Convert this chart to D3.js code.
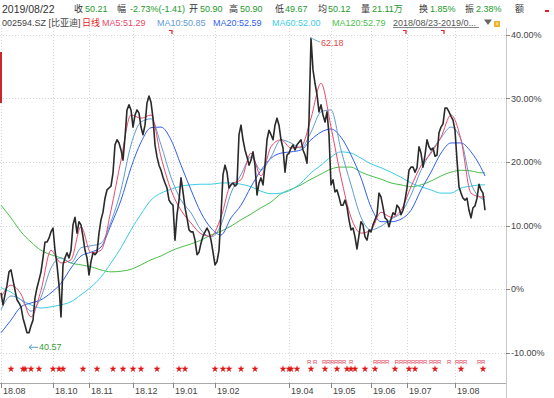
<!DOCTYPE html>
<html>
<head>
<meta charset="utf-8">
<script src="https://cdn.jsdelivr.net/npm/d3@7"></script>
<style>
body { margin: 0; background: #fff; }
svg { display: block; font-family: "Liberation Sans", "Noto Sans CJK SC", sans-serif; }
</style>
</head>
<body>
<div id="chart-area"></div>
<script>
// close, % change vs. base price, one value per trading day (2018/08/23 - 2019/08/22)
var closePct = [
  -0.6, -2.5, -0.9, 0.6, 2.7, 3.0, 1.4, -0.2, -1.7, -2.2,
  -2.8, -4.6, -5.7, -6.9, -6.9, -5.8, -4.9, -1.4, 0.2, 1.4,
  2.7, 4.9, 7.4, 7.4, 8.0, 9.0, 9.6, 6.1, 3.8, 0.6,
  -4.4, 3.8, 4.9, 5.7, 4.9, 6.1, 10.1, 11.3, 8.8, 10.6,
  10.1, 8.2, 6.1, 4.9, 2.2, 4.3, 5.7, 5.4, 5.8, 8.8,
  10.9, 12.1, 14.3, 15.6, 15.9, 16.2, 18.3, 22.7, 23.5, 23.0,
  21.9, 20.3, 23.9, 28.2, 29.0, 28.2, 25.5, 27.4, 28.2, 27.7,
  25.5, 24.3, 25.8, 29.3, 30.4, 29.4, 26.9, 22.7, 20.8, 19.5,
  18.7, 17.6, 16.7, 15.9, 14.0, 13.5, 13.2, 7.7, 11.7, 14.0,
  17.5, 15.3, 12.8, 11.2, 9.3, 9.0, 9.0, 7.7, 5.4, 5.8,
  7.2, 8.3, 9.0, 9.6, 9.0, 7.7, 5.8, 3.8, 4.3, 6.1,
  11.7, 18.0, 19.5, 18.4, 15.9, 16.4, 16.7, 16.2, 16.5, 24.3,
  25.8, 23.5, 21.9, 20.8, 19.5, 20.3, 21.6, 19.5, 14.8, 16.7,
  17.5, 16.4, 19.5, 23.5, 25.0, 24.3, 23.5, 25.8, 26.9, 25.8,
  23.5, 22.2, 18.4, 21.1, 21.4, 22.2, 22.7, 21.9, 22.7, 23.1,
  23.5, 21.9, 21.1, 19.8, 26.6, 39.5, 34.5, 32.4, 30.6, 27.9,
  29.0, 27.4, 26.3, 27.9, 24.3, 16.4, 17.2, 15.3, 15.6, 14.5,
  13.2, 13.2, 14.0, 12.9, 10.9, 9.3, 9.6, 8.2, 6.3, 8.5,
  10.6, 10.1, 8.2, 7.7, 9.3, 9.0, 10.1, 10.9, 11.7, 15.1,
  14.5, 12.9, 11.2, 10.9, 9.8, 11.0, 12.0, 11.7, 13.2, 12.8,
  11.7, 12.4, 14.0, 15.9, 18.7, 19.2, 19.2, 18.4, 19.1, 22.4,
  21.4, 19.2, 21.1, 23.5, 22.4, 21.9, 22.2, 20.9, 21.1, 24.6,
  25.5, 26.0, 28.5, 28.5, 27.9, 27.2, 26.6, 25.0, 20.3, 16.1,
  15.1, 14.3, 14.0, 14.3, 12.4, 11.2, 12.8, 13.1, 14.3, 16.5,
  15.6, 15.1, 12.4
];

// moving averages read every 5 trading days (and the last day)
var maDays = d3.range(0, 241, 5).concat([242]);
var ma5 = [
  -1.3, 0.6, -0.8, -4.4, -0.2, 6.1, 4.1, 4.6, 9.8, 5.7,
  6.1, 12.4, 20.3, 27.4, 26.9, 27.4, 20.8, 15.6, 12.4, 10.4,
  8.7, 8.3, 11.3, 16.5, 17.2, 21.4, 17.8, 22.4, 23.5, 22.2,
  22.4, 26.9, 32.4, 25.5, 17.6, 11.3, 8.8, 9.3, 12.1, 11.3,
  12.4, 16.1, 19.4, 21.4, 23.9, 27.4, 23.5, 15.1, 14.5, 14.5
];
var ma10 = [
  -3.3, -1.1, -1.7, -3.5, -1.3, 3.3, 4.9, 4.1, 6.5, 6.8,
  7.2, 10.6, 15.6, 22.7, 26.3, 26.8, 22.7, 17.6, 14.0, 12.0,
  9.3, 8.2, 10.1, 15.1, 18.0, 20.8, 18.7, 20.8, 23.5, 23.0,
  22.2, 24.7, 27.9, 28.2, 21.9, 16.4, 11.3, 9.3, 9.9, 11.0,
  12.0, 14.8, 18.7, 21.6, 23.8, 25.5, 23.5, 16.7, 14.3, 14.0
];
var ma20 = [
  -6.9, -4.9, -2.8, -2.2, -1.7, -0.6, 0.9, 3.3, 5.2, 5.8,
  6.6, 10.1, 14.0, 19.1, 23.1, 25.4, 25.5, 23.5, 19.5, 15.6,
  12.0, 9.6, 8.5, 11.2, 13.2, 16.1, 18.7, 20.6, 21.4, 21.6,
  21.9, 23.5, 24.7, 25.2, 23.9, 21.1, 17.5, 12.9, 10.6, 10.6,
  11.0, 12.4, 15.6, 18.4, 21.4, 23.0, 23.0, 21.6, 19.1, 17.8
];
var ma60 = [
  0.2, -0.5, -1.7, -2.5, -3.0, -2.8, -2.5, -2.0, -0.9, 0.3,
  1.9, 4.1, 6.5, 9.3, 11.8, 14.0, 15.1, 15.7, 16.2, 16.4,
  16.5, 16.5, 16.7, 16.7, 16.5, 16.1, 15.4, 15.0, 15.1, 15.6,
  16.7, 18.3, 19.5, 20.8, 21.6, 21.4, 20.6, 19.7, 19.1, 18.4,
  17.6, 16.7, 16.1, 15.6, 15.1, 15.1, 15.9, 16.2, 16.4, 16.4
];
var ma120 = [
  13.2, 11.2, 9.0, 7.4, 6.1, 5.4, 4.9, 4.1, 3.8, 3.5,
  3.0, 2.7, 2.8, 3.1, 3.8, 4.6, 5.2, 6.0, 6.6, 7.1,
  7.7, 8.5, 9.1, 9.9, 10.9, 11.8, 12.8, 13.7, 15.0, 15.7,
  16.4, 17.3, 18.1, 18.9, 19.2, 19.2, 18.4, 17.8, 17.3, 16.7,
  16.4, 16.1, 16.4, 17.0, 17.8, 18.4, 18.7, 18.6, 18.3, 18.3
];

var monthLabels = ["18.08", "18.10", "18.11", "18.12", "19.01", "19.02", "19.04", "19.05", "19.06", "19.07", "19.08"];
var monthDays = [0, 26, 44, 66, 86, 107, 144, 165, 185, 203, 227];
var yTicks = [40, 30, 20, 10, 0, -10];

var starDays = [5, 11, 12, 15, 19, 26, 29, 31, 41, 48, 56, 61, 66, 70, 78, 89, 92, 107, 111, 114,
  120, 127, 141, 144, 145, 148, 155, 162, 168, 173, 175, 177, 182, 187, 197, 204, 207, 217, 230, 241];
var rDays = [154, 157, 162, 164, 165, 167, 170, 171, 175, 187, 189, 191, 193, 199, 200, 202, 204, 205,
  207, 209, 211, 215, 217, 219, 224, 229, 230, 231, 239, 241];
var eventDays = [85, 202, 221];

var basePrice = 44.67;
var highDay = 155, highPrice = 62.18;
var lowDay = 14, lowPrice = 40.57;

var headLabels = ["收", "幅", "开", "高", "低", "均", "量", "换", "振", "额"];
var headValues = ["50.21", "-2.73%(-1.41)", "50.90", "50.90", "49.67", "50.12", "21.11万", "1.85%", "2.38%", ""];
var maNames = ["MA5:51.29", "MA10:50.85", "MA20:52.59", "MA60:52.00", "MA120:52.79"];

var maColors = ["#e8496b", "#5f9bd4", "#2f5ff0", "#3ccde6", "#4cbf4c"];

var svg = d3.select("#chart-area")
  .append("svg")
  .attr("width", 554)
  .attr("height", 398);

var plotRight = 506;
var plotTop = 28;
var plotBottom = 383;

var x = d3.scaleLinear().domain([0, 242]).range([1, 485]);
var y = d3.scaleLinear().domain([-10, 40]).range([352.5, 35]);

function pct(p) { return (p / basePrice - 1) * 100; }

// header row 1
var head = svg.append("g").attr("font-size", "9px");
head.append("text").attr("x", 2).attr("y", 9).attr("dy", "0.35em")
  .attr("font-size", "10.5px").attr("fill", "#333").text("2019/08/22");
var labelX = [74, 117, 189, 229, 275, 318, 361, 419, 465, 515];
var valueX = [85, 130, 200, 240, 285, 328, 372, 430, 476, 0];
head.selectAll(".hl").data(headLabels).enter().append("text")
  .attr("x", function(d, i) { return labelX[i]; }).attr("y", 9).attr("dy", "0.35em")
  .attr("fill", "#333").text(function(d) { return d; });
head.selectAll(".hv").data(headValues).enter().append("text")
  .attr("x", function(d, i) { return valueX[i]; }).attr("y", 9).attr("dy", "0.35em")
  .attr("fill", "#239a2b").text(function(d) { return d; });
svg.append("rect").attr("x", 545).attr("y", 10).attr("width", 4).attr("height", 2).attr("fill", "#e02020");

// header row 2
var row2 = svg.append("g").attr("font-size", "9px");
row2.append("text").attr("x", 2).attr("y", 23).attr("dy", "0.35em").attr("fill", "#444").text("002594.SZ [比亚迪]");
row2.append("text").attr("x", 82).attr("y", 23).attr("dy", "0.35em").attr("fill", "#e02828").text("日线");
var maX = [102, 157, 213, 272, 332];
row2.selectAll(".ma").data(maNames).enter().append("text")
  .attr("x", function(d, i) { return maX[i]; }).attr("y", 23).attr("dy", "0.35em")
  .attr("fill", function(d, i) { return maColors[i]; })
  .text(function(d) { return d; });
row2.append("text").attr("x", 393).attr("y", 23).attr("dy", "0.35em").attr("fill", "#555")
  .text("2018/08/23-2019/0...");
row2.append("line").attr("x1", 393).attr("x2", 479).attr("y1", 27.5).attr("y2", 27.5)
  .attr("stroke", "#666").attr("stroke-width", 0.8);
svg.append("path").attr("d", "M484,19.5L492,19.5L488,25Z").attr("fill", "#666");
svg.append("rect").attr("x", 494).attr("y", 21).attr("width", 6).attr("height", 6).attr("fill", "#f2b230");
svg.append("rect").attr("x", 496.5).attr("y", 22.5).attr("width", 1).attr("height", 2.5).attr("fill", "#fff");

// grid
var grid = svg.append("g").attr("stroke", "#d6d6d6").attr("stroke-dasharray", "1,2");
grid.selectAll(".gy").data(yTicks).enter().append("line")
  .attr("x1", 0).attr("x2", plotRight)
  .attr("y1", function(d) { return Math.round(y(d)) + 0.5; })
  .attr("y2", function(d) { return Math.round(y(d)) + 0.5; });
grid.selectAll(".gx").data(monthDays).enter().append("line")
  .attr("x1", function(d) { return Math.round(x(d)) + 0.5; })
  .attr("x2", function(d) { return Math.round(x(d)) + 0.5; })
  .attr("y1", plotTop).attr("y2", plotBottom);

// right axis
svg.append("line").attr("x1", plotRight + 0.5).attr("x2", plotRight + 0.5)
  .attr("y1", plotTop).attr("y2", 398).attr("stroke", "#c8c8c8");
var yAxis = svg.append("g");
yAxis.selectAll("line").data(yTicks).enter().append("line")
  .attr("x1", plotRight).attr("x2", plotRight + 4)
  .attr("y1", function(d) { return Math.round(y(d)) + 0.5; })
  .attr("y2", function(d) { return Math.round(y(d)) + 0.5; })
  .attr("stroke", "#888");
yAxis.selectAll("text").data(yTicks).enter().append("text")
  .attr("x", plotRight + 5).attr("y", function(d) { return y(d); }).attr("dy", "0.35em")
  .attr("font-size", "9px").attr("fill", "#444")
  .text(function(d) { return d === 0 ? "0%" : d.toFixed(2) + "%"; });

// bottom axis
svg.append("line").attr("x1", 0).attr("x2", plotRight).attr("y1", plotBottom + 0.5).attr("y2", plotBottom + 0.5)
  .attr("stroke", "#aaa");
var xAxis = svg.append("g");
xAxis.selectAll("line").data(monthDays).enter().append("line")
  .attr("x1", function(d) { return Math.round(x(d)) + 0.5; })
  .attr("x2", function(d) { return Math.round(x(d)) + 0.5; })
  .attr("y1", plotBottom).attr("y2", plotBottom + 5).attr("stroke", "#888");
xAxis.selectAll("text").data(monthLabels).enter().append("text")
  .attr("x", function(d, i) { return x(monthDays[i]) + 2; }).attr("y", 391).attr("dy", "0.35em")
  .attr("font-size", "9px").attr("fill", "#444")
  .text(function(d) { return d; });

// lines
svg.append("clipPath").attr("id", "clip").append("rect")
  .attr("x", 0).attr("y", plotTop).attr("width", plotRight).attr("height", plotBottom - plotTop);
var g = svg.append("g").attr("clip-path", "url(#clip)");

var maLine = d3.line()
  .x(function(d, i) { return x(maDays[i]); })
  .y(function(d) { return y(d); })
  .curve(d3.curveMonotoneX);

var maSeries = [ma5, ma10, ma20, ma60, ma120];
[4, 3, 2, 1, 0].forEach(function(k) {
  g.append("path").datum(maSeries[k])
    .attr("d", maLine)
    .attr("fill", "none")
    .attr("stroke", maColors[k])
    .attr("stroke-width", 1);
});

var closeLine = d3.line()
  .x(function(d, i) { return x(i); })
  .y(function(d) { return y(d); });

g.append("path").datum(closePct)
  .attr("d", closeLine)
  .attr("fill", "none")
  .attr("stroke", "#2a2a2a")
  .attr("stroke-width", 1.6)
  .attr("stroke-linejoin", "round");

// high / low annotations
var hx = x(highDay), hy = y(pct(highPrice));
svg.append("line").attr("x1", hx).attr("y1", hy - 2).attr("x2", hx + 9).attr("y2", hy + 2)
  .attr("stroke", "#6ab8d0").attr("stroke-width", 1);
svg.append("text").attr("x", hx + 10).attr("y", hy + 3).attr("dy", "0.35em")
  .attr("font-size", "9px").attr("fill", "#e04848").text(highPrice.toFixed(2));

var lx = x(lowDay), ly = y(pct(lowPrice));
svg.append("path")
  .attr("d", "M" + lx + "," + ly + "H" + (lx + 9) + "M" + (lx + 3) + "," + (ly - 2.5) + "L" + lx + "," + ly + "L" + (lx + 3) + "," + (ly + 2.5))
  .attr("fill", "none").attr("stroke", "#5aa0c8").attr("stroke-width", 1);
svg.append("text").attr("x", lx + 10).attr("y", ly).attr("dy", "0.35em")
  .attr("font-size", "9px").attr("fill", "#3a9a3a").text(lowPrice.toFixed(2));

// event marks at top
svg.selectAll(".ev").data(eventDays).enter().append("path")
  .attr("d", function(d) { var ex = x(d); return "M" + (ex - 2) + ",30.5H" + (ex + 1) + "V34"; })
  .attr("fill", "none").attr("stroke", "#e02030").attr("stroke-width", 1.2);

// signal markers
var star = d3.symbol().type(d3.symbolStar).size(15);
svg.selectAll(".star").data(starDays).enter().append("path")
  .attr("d", star)
  .attr("transform", function(d) { return "translate(" + x(d) + ",369)"; })
  .attr("fill", "#e01818");

// R marks that sit on close days are written as one run ("RRR")
var rRuns = [];
rDays.forEach(function(d) {
  var last = rRuns[rRuns.length - 1];
  if (last && d - last.end <= 2) { last.end = d; last.n += 1; }
  else rRuns.push({ start: d, end: d, n: 1 });
});
svg.selectAll(".rmark").data(rRuns).enter().append("text")
  .attr("x", function(d) { return (x(d.start) + x(d.end)) / 2; }).attr("y", 362).attr("dy", "0.35em")
  .attr("text-anchor", "middle").attr("font-size", "6px").attr("letter-spacing", "-0.3px")
  .attr("fill", "#e0405a")
  .text(function(d) { return "R".repeat(d.n); });

// left red marker
svg.append("rect").attr("x", 0).attr("y", 52).attr("width", 2).attr("height", 51).attr("fill", "#c8282d");
</script>
</body>
</html>
